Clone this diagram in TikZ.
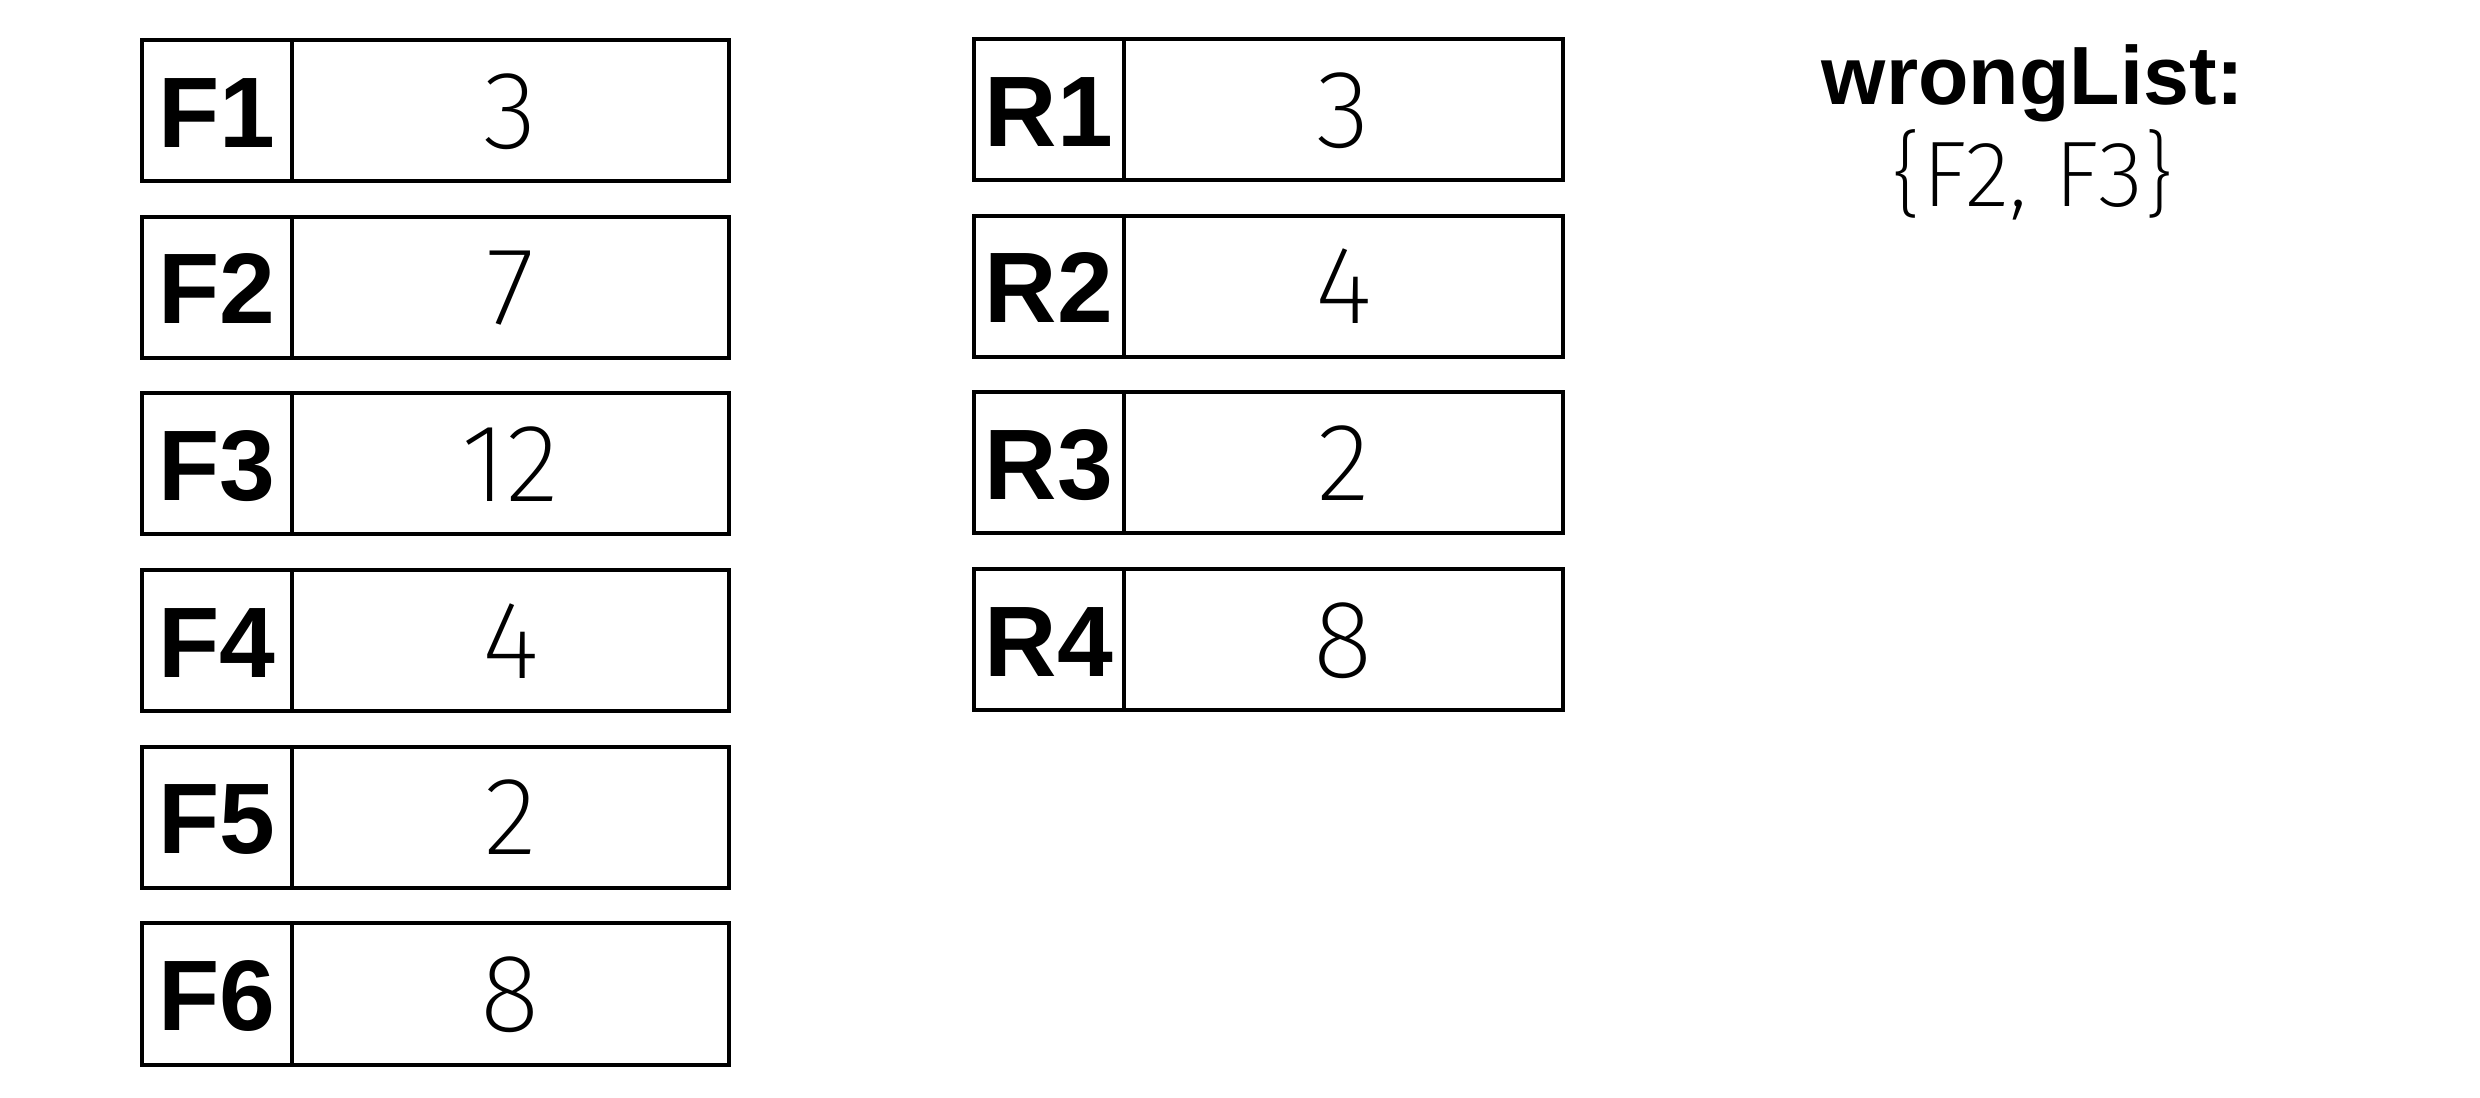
\documentclass[tikz,border=0pt]{standalone}
\usepackage{fontspec}
\newfontfamily\labf{Liberation Sans}
\newfontfamily\thinf{Fira Sans ExtraLight}
\begin{document}
\begin{tikzpicture}[x=0.01cm,y=-0.01cm,
  cellbase/.style={draw=black,line width=0.04cm,rectangle,inner sep=0pt,outer sep=0pt,minimum height=1.41cm},
  labcell/.style={cellbase,minimum width=1.50cm,font=\labf\bfseries\fontsize{28.5}{28.5}\selectfont,text height=0.73cm,text depth=0pt},
  valcell/.style={cellbase,font=\thinf\fontsize{31.5}{31.5}\selectfont,text height=0.75cm,text depth=0pt},
  fval/.style={valcell,minimum width=4.37cm},
  rval/.style={valcell,minimum width=4.39cm},
  titletext/.style={anchor=base,inner sep=0pt,font=\labf\bfseries\fontsize{23.5}{23.5}\selectfont},
  listtext/.style={anchor=base,inner sep=0pt,font=\thinf\fontsize{26.5}{26.5}\selectfont}]
\useasboundingbox[fill=white] (0,0) rectangle (2480,1098);
% F column
\foreach \lab/\val [count=\i from 0] in {F1/3,F2/7,F3/12,F4/4,F5/2,F6/8}{
  \node[labcell] (\lab) at (217,110.5+\i*176.7) {\lab};
  \node[fval] (\lab v) at (510.5,110.5+\i*176.7) {\val};
}
% R column
\foreach \lab/\val [count=\i from 0] in {R1/3,R2/4,R3/2,R4/8}{
  \node[labcell] (\lab) at (1049,109.5+\i*176.7) {\lab};
  \node[rval] (\lab v) at (1343.5,109.5+\i*176.7) {\val};
}
\node[titletext] (wl) at (2033,105) {wrongList:};
\node[listtext] (wlv) at (2033,207) {\{F2, F3\}};
\end{tikzpicture}
\end{document}
